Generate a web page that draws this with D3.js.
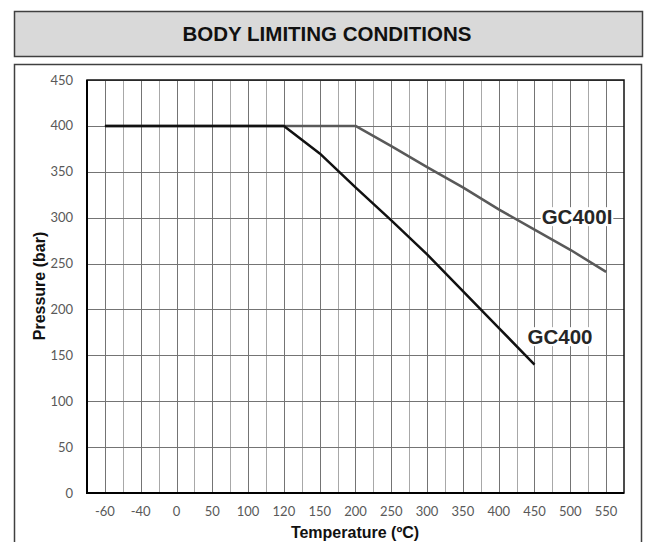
<!DOCTYPE html>
<html>
<head>
<meta charset="utf-8">
<script src="https://cdn.jsdelivr.net/npm/d3@7"></script>
<style>
  body { margin: 0; background: #fff; }
  svg { display: block; }
</style>
</head>
<body>
<div id="chart"></div>
<script>
// Body limiting conditions: pressure vs temperature for GC400 / GC400I
const temps = ["-60", "-40", "0", "50", "100", "120", "150", "200", "250", "300", "350", "400", "450", "500", "550"];
const gc400 = [400, 400, 400, 400, 400, 400, 370, 333, 297, 260, 220, 180, 140, null, null];
const gc400i = [400, 400, 400, 400, 400, 400, 400, 400, 378, 355, 333, 309, 287, 265, 241];
const yTicks = [0, 50, 100, 150, 200, 250, 300, 350, 400, 450];
const seriesNames = ["GC400", "GC400I"];

const W = 648, H = 542;
const margin = {left: 87, top: 80, right: 24, bottom: 49};

const svg = d3.select('#chart').append('svg')
  .attr('width', W)
  .attr('height', H);

// title box
svg.append('rect')
  .attr('x', 14.5).attr('y', 11.5)
  .attr('width', 628).attr('height', 45)
  .attr('fill', '#d9d9d9')
  .attr('stroke', '#404040')
  .attr('stroke-width', 1.5);
svg.append('text')
  .attr('x', 327).attr('y', 41)
  .attr('text-anchor', 'middle')
  .style('font-family', 'Liberation Sans, Arial, sans-serif')
  .style('font-weight', 'bold')
  .style('font-size', '20.5px')
  .attr('fill', '#111')
  .text('BODY LIMITING CONDITIONS');

// chart frame (runs past the bottom edge)
svg.append('rect')
  .attr('x', 14.5).attr('y', 64.5)
  .attr('width', 627).attr('height', 500)
  .attr('fill', '#fff')
  .attr('stroke', '#404040')
  .attr('stroke-width', 1.5);

const x = d3.scaleBand()
  .domain(temps)
  .range([margin.left, W - margin.right]);
const xc = d => x(d) + x.bandwidth() / 2;

const y = d3.scaleLinear()
  .domain([0, 450])
  .range([H - margin.bottom, margin.top]);

const g = svg.append('g');

// minor vertical grid (category boundaries)
g.append('g')
  .selectAll('line')
  .data(temps.slice(1))
  .join('line')
  .attr('x1', d => Math.round(x(d)) + 0.5)
  .attr('x2', d => Math.round(x(d)) + 0.5)
  .attr('y1', y(450)).attr('y2', y(0))
  .attr('stroke', '#a8a8a8')
  .attr('stroke-width', 1);

// major vertical grid (category centres)
g.append('g')
  .selectAll('line')
  .data(temps)
  .join('line')
  .attr('x1', d => Math.round(xc(d)) + 0.5)
  .attr('x2', d => Math.round(xc(d)) + 0.5)
  .attr('y1', y(450)).attr('y2', y(0))
  .attr('stroke', '#747474')
  .attr('stroke-width', 1);

// horizontal grid
g.append('g')
  .selectAll('line')
  .data(yTicks)
  .join('line')
  .attr('x1', margin.left).attr('x2', W - margin.right)
  .attr('y1', d => Math.round(y(d)) + 0.5)
  .attr('y2', d => Math.round(y(d)) + 0.5)
  .attr('stroke', '#747474')
  .attr('stroke-width', 1);

// plot border
g.append('rect')
  .attr('x', margin.left).attr('y', y(450))
  .attr('width', W - margin.right - margin.left)
  .attr('height', y(0) - y(450))
  .attr('fill', 'none')
  .attr('stroke', '#111')
  .attr('stroke-width', 1.5);
// heavier axis lines
g.append('path')
  .attr('d', `M${margin.left},${y(450)}V${y(0)}H${W - margin.right}`)
  .attr('fill', 'none')
  .attr('stroke', '#000')
  .attr('stroke-width', 2);

// tick labels
const tickFont = 'Lato, "Open Sans", sans-serif';
g.append('g')
  .selectAll('text')
  .data(yTicks)
  .join('text')
  .attr('x', 73)
  .attr('y', d => y(d))
  .attr('dy', '0.35em')
  .attr('text-anchor', 'end')
  .style('font-family', tickFont)
  .style('font-size', '13px')
  .attr('fill', '#595959')
  .text(d => d);

g.append('g')
  .selectAll('text')
  .data(temps)
  .join('text')
  .attr('x', d => xc(d))
  .attr('y', 511)
  .attr('dy', '0.35em')
  .attr('text-anchor', 'middle')
  .style('font-family', tickFont)
  .style('font-size', '13px')
  .attr('fill', '#595959')
  .text(d => d);

// axis titles
svg.append('text')
  .attr('transform', 'translate(45,286) rotate(-90)')
  .attr('text-anchor', 'middle')
  .style('font-family', 'Liberation Sans, Arial, sans-serif')
  .style('font-weight', 'bold')
  .style('font-size', '16px')
  .attr('fill', '#111')
  .text('Pressure (bar)');

svg.append('text')
  .attr('x', 355).attr('y', 538)
  .attr('text-anchor', 'middle')
  .style('font-family', 'Liberation Sans, Arial, sans-serif')
  .style('font-weight', 'bold')
  .style('font-size', '16px')
  .attr('fill', '#111')
  .text('Temperature (ºC)');

// series lines
const line = d3.line()
  .defined(d => d.v != null)
  .x(d => xc(d.t))
  .y(d => y(d.v));

const series = [
  {name: seriesNames[1], values: gc400i, color: '#595959'},
  {name: seriesNames[0], values: gc400, color: '#111'}
];

series.forEach(s => {
  g.append('path')
    .datum(temps.map((t, i) => ({t: t, v: s.values[i]})))
    .attr('d', line)
    .attr('fill', 'none')
    .attr('stroke', s.color)
    .attr('stroke-width', 2.5)
    .attr('stroke-linejoin', 'round');
});

// series labels with white backing, like Excel data labels
const labels = [
  {text: seriesNames[1], x: 577, y: 217},
  {text: seriesNames[0], x: 560, y: 337}
];
labels.forEach(l => {
  const t = svg.append('text')
    .attr('x', l.x).attr('y', l.y)
    .attr('dy', '0.35em')
    .attr('text-anchor', 'middle')
    .style('font-family', 'Liberation Sans, Arial, sans-serif')
    .style('font-weight', 'bold')
    .style('font-size', '20.5px')
    .attr('fill', '#262626')
    .text(l.text);
  const bb = t.node().getBBox();
  svg.insert('rect', () => t.node())
    .attr('x', bb.x - 1).attr('y', bb.y + 2)
    .attr('width', bb.width + 2).attr('height', bb.height - 4)
    .attr('fill', '#fff');
});
</script>
</body>
</html>
